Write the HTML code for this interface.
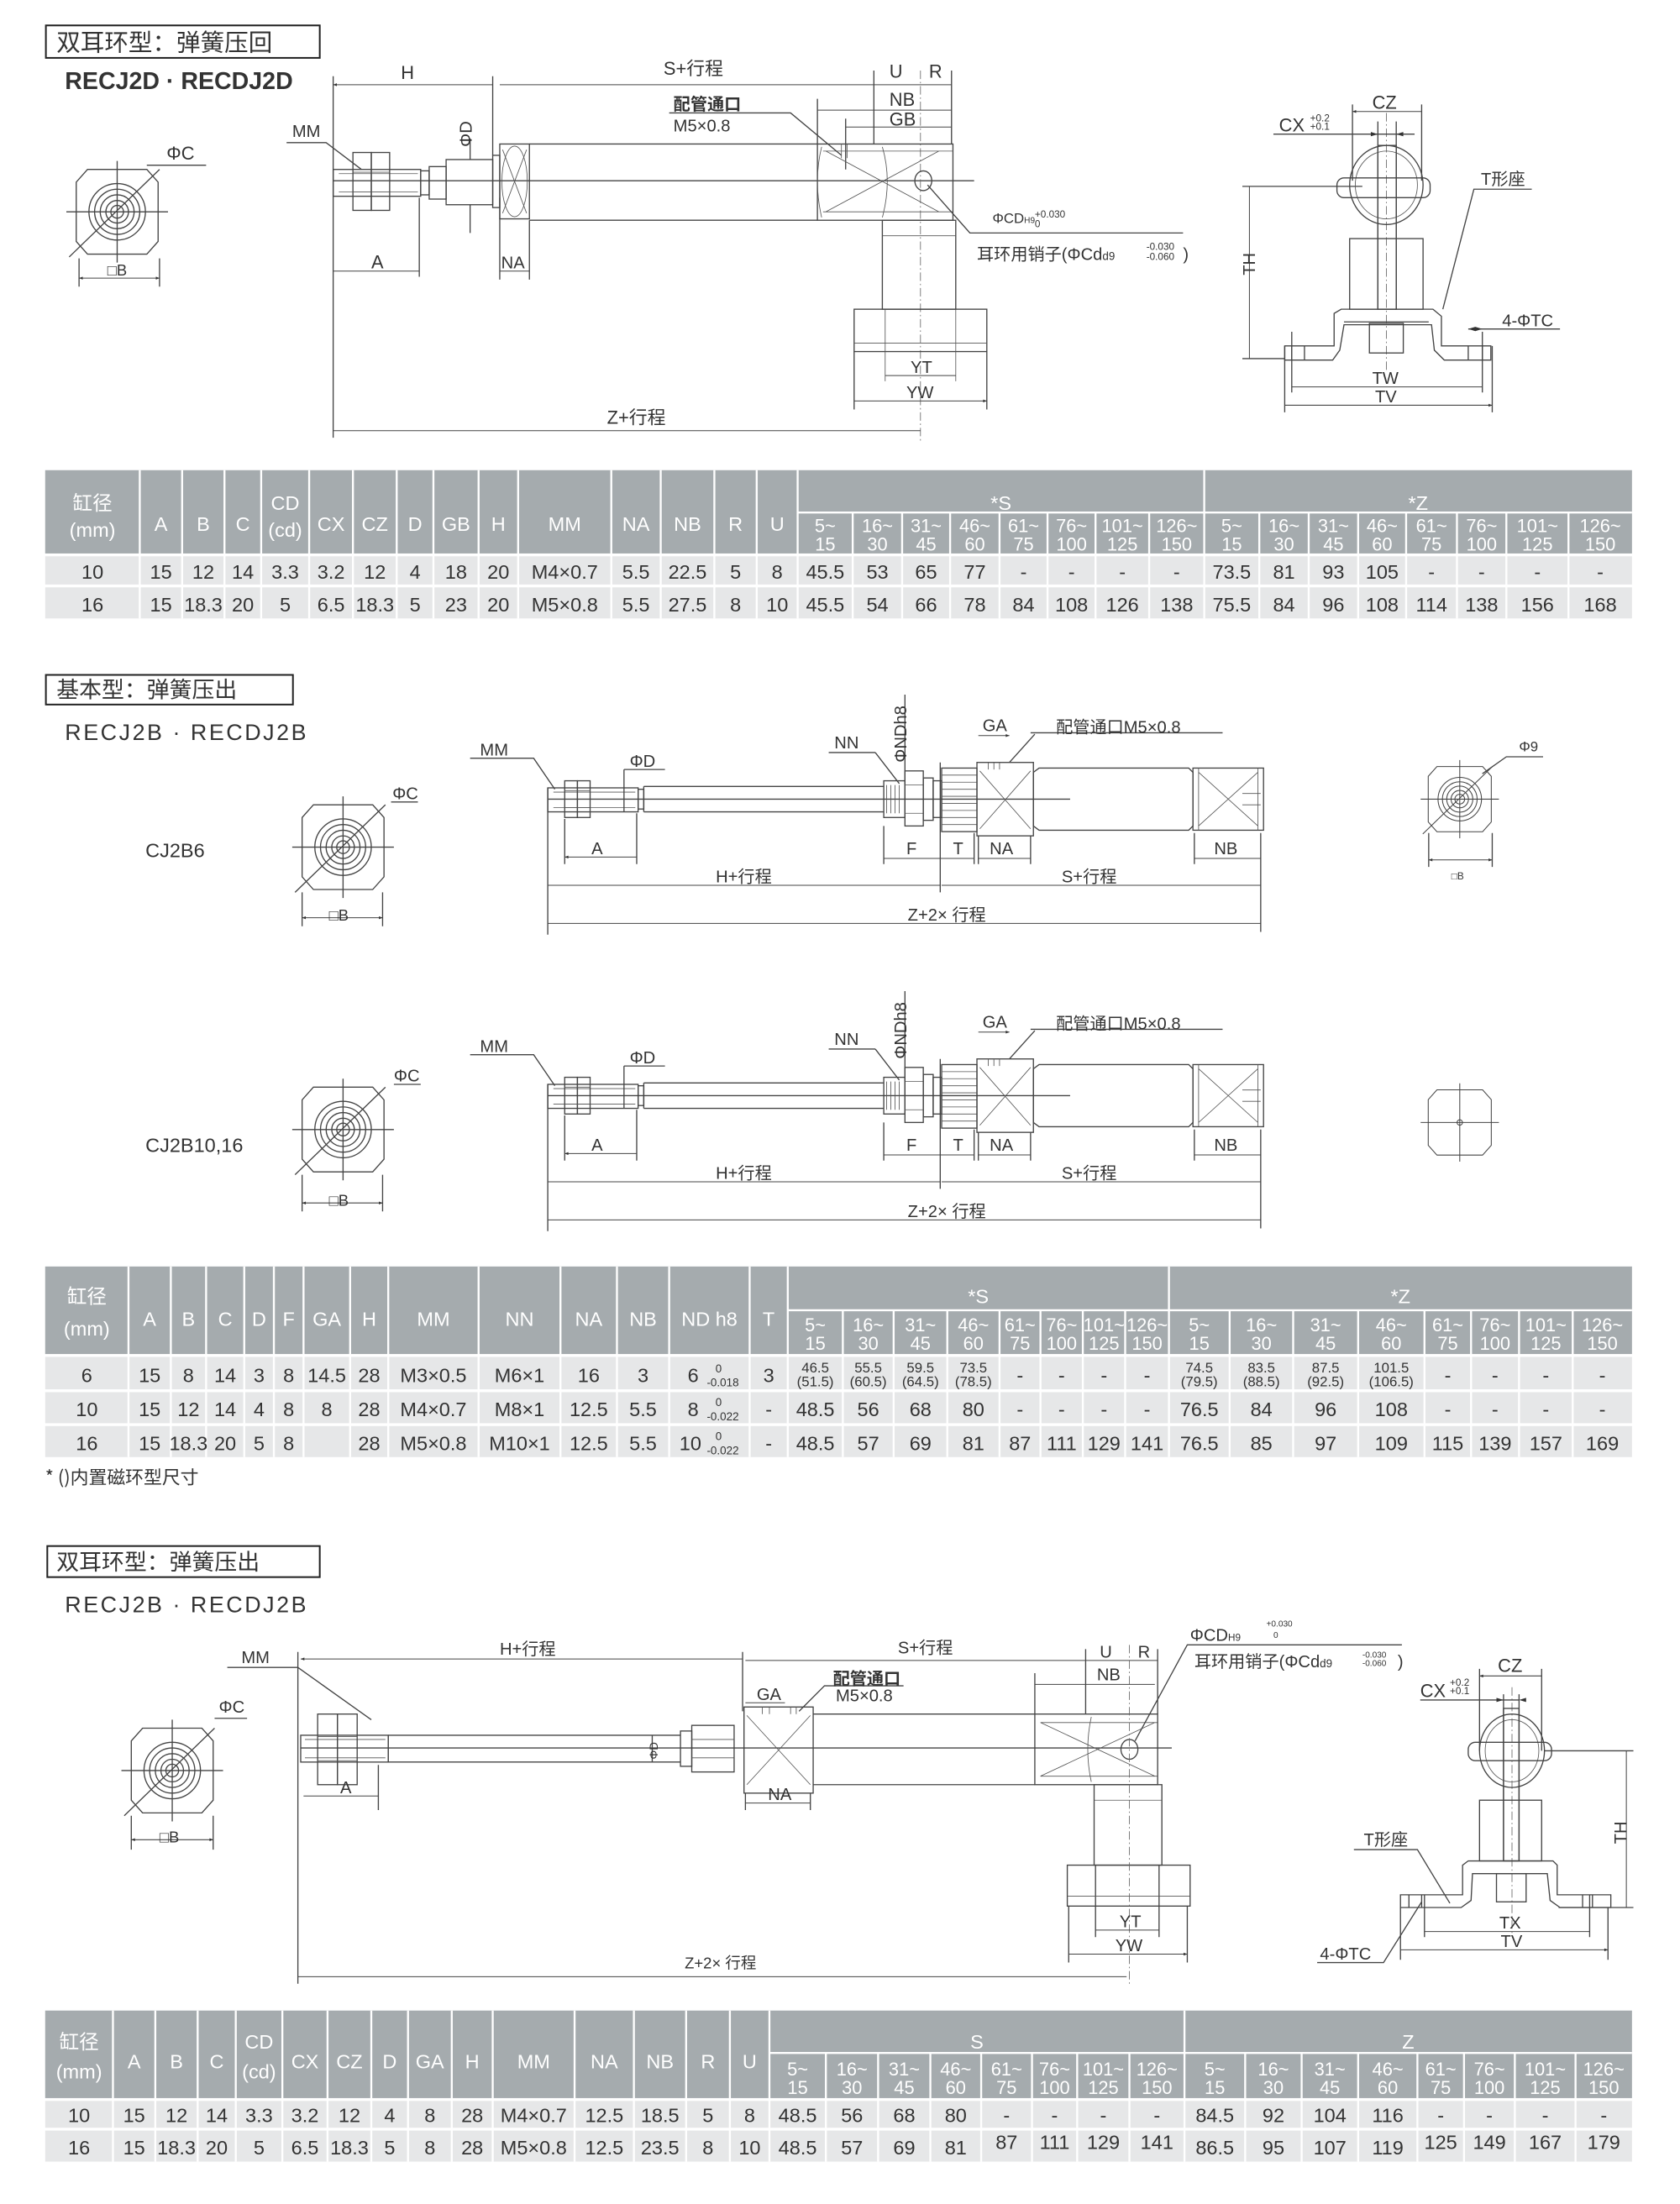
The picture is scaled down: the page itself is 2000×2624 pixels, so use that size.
<!DOCTYPE html>
<html><head><meta charset="utf-8"><style>
html,body{margin:0;padding:0;background:#fff}
svg{display:block}
text{font-family:"Liberation Sans","Noto Sans CJK SC",sans-serif;fill:#333}
.t{font-family:"Liberation Sans Narrow","Liberation Sans","Noto Sans CJK SC",sans-serif}
.l{fill:none;stroke:#444;stroke-width:0.8}
.th{fill:none;stroke:#555;stroke-width:0.5}
.d{fill:none;stroke:#444;stroke-width:0.6;marker-start:url(#ae);marker-end:url(#ae)}
.c{fill:none;stroke:#666;stroke-width:0.5;stroke-dasharray:6 2 1 2}
.w{fill:none;stroke:#fff;stroke-width:1.4}
.hd text,.hd{fill:#fff}
</style></head><body>
<svg width="2000" height="2624" viewBox="0 0 1190 1561" preserveAspectRatio="none" xmlns="http://www.w3.org/2000/svg">
<defs>
<marker id="ae" viewBox="0 0 10 10" refX="10" refY="5" markerWidth="5" markerHeight="2.6" orient="auto-start-reverse" markerUnits="userSpaceOnUse"><path d="M0,1L10,5L0,9z" fill="#333"/></marker>
<g id="oct">
<polygon class="l" points="-21,-30 21,-30 29,-21 29,21 21,30 -21,30 -29,21 -29,-21"/>
<circle class="l" r="20"/><circle class="l" r="16"/><circle class="l" r="12"/><circle class="l" r="8"/><circle class="l" r="4.5"/>
<path class="l" d="M-36,0H36M0,-36V36M-34,32L30,-30"/>
</g>
<g id="cyl2">
<path class="l" d="M388,558V662M388,566H758"/>
<rect class="l" x="388" y="558" width="64" height="17"/>
<path class="th" d="M392,561H450M392,572H450"/>
<rect class="l" x="400" y="553" width="9" height="26"/><rect class="l" x="409" y="553" width="9" height="26"/>
<path class="th" d="M400,560H418M400,572H418"/>
<rect class="l" x="452" y="559" width="4" height="14"/>
<path class="l" d="M456,557H626M456,575H626M456,557V575"/>
<rect class="l" x="626" y="553" width="15" height="26"/>
<path class="th" d="M628,556V576M631,556V576M634,556V576M637,556V576"/>
<rect class="l" x="641" y="546" width="13" height="39"/>
<path class="th" d="M641,556H654M641,576H654"/>
<rect class="l" x="654" y="551" width="7" height="30"/>
<rect class="l" x="661" y="553" width="6" height="26"/>
<rect class="l" x="667" y="544" width="25" height="45"/>
<path class="th" d="M667,549H692M667,554H692M667,559H692M667,564H692M667,569H692M667,574H692M667,579H692M667,584H692"/>
<rect class="l" x="692" y="540" width="40" height="52"/>
<path class="th" d="M694,546L730,587M694,587L730,546M700,540V545M704,540V545M708,540V545"/>
<polygon class="l" points="732,547 736,544 842,544 845,547 845,585 842,588 736,588 732,585"/>
<rect class="l" x="845" y="544" width="50" height="44"/>
<path class="th" d="M849,544V588M891,544V588M849,547L891,585M849,585L891,547M880,562H893M880,570H893"/>
<path class="l" d="M400,580V612M451,576V612M626,585V612M666,540V632M690,590V612M693,592V612M730,592V612M846,590V612M893,590V660M641,492V556M442,545V575M733,520L715,540M620,533L637,555"/>
<path class="d" d="M400,607H451M626,608H666M666,608H690M693,608H730M846,608H893M388,627H666M667,627H893M388,654H893M693,521H715"/>
<path class="l" d="M333,537H378L393,559M442,545H471M587,533H620M730,519H866"/>
</g>
</defs>

<!-- ===== SECTION 1 ===== -->
<rect x="32.5" y="18" width="194" height="23" fill="none" stroke="#222" stroke-width="1.2"/>
<text x="40" y="36" style="font-family:'Noto Sans CJK SC',sans-serif;font-size:17px">双耳环型：弹簧压回</text>
<text x="46" y="63" style="font-weight:bold;font-size:17px">RECJ2D · RECDJ2D</text>

<g transform="translate(83,150)"><use href="#oct"/></g>
<path class="l" d="M56,183V203M113,183V203M104,117H146"/>
<path class="d" d="M56,197H113"/>
<text x="76" y="195" font-size="11">□B</text>
<text x="118" y="113" font-size="13">ΦC</text>

<path class="l" d="M236,54V310M236,128H690M349,54V110M354,140V198M375,156V198M297,140V196M619,50V102M674,50V102M579,70V102M599,84V120"/>
<path class="c" d="M652,50V312"/>
<rect class="l" x="236" y="120" width="62" height="19"/>
<path class="th" d="M240,123H296M240,136H296"/>
<rect class="l" x="250" y="108" width="13" height="41"/><rect class="l" x="263" y="108" width="13" height="41"/>
<path class="th" d="M250,122H276M250,136H276"/>
<rect class="l" x="298" y="121" width="6" height="17"/>
<rect class="l" x="304" y="118" width="12" height="23"/>
<rect class="l" x="316" y="113" width="33" height="32"/>
<rect class="l" x="349" y="110" width="5" height="37"/>
<rect class="l" x="354" y="102" width="21" height="53"/>
<ellipse class="th" cx="364.5" cy="128.5" rx="9" ry="25"/>
<path class="th" d="M356,106L373,151M356,151L373,106"/>
<path class="l" d="M375,102H579M375,156H579"/>
<rect class="l" x="579" y="102" width="96" height="54"/>
<path class="th" d="M583,107H675M583,150H675M585,107L665,150M585,150L665,107M582,104Q576,128 582,154M625,104Q632,128 625,154M596,102V112M600,102V112"/>
<ellipse class="l" cx="654" cy="128" rx="6" ry="7"/>
<rect class="l" x="625" y="156" width="52" height="63"/>
<path class="th" d="M625,167H677"/>
<rect class="l" x="605" y="219" width="94" height="30"/>
<path class="th" d="M605,243H699M627,219V270M677,219V270"/>
<path class="l" d="M605,249V290M699,249V290"/>
<path class="d" d="M236,60H349M354,60H619M619,60H652M652,60H674M579,78H674M599,90H674M236,192H297M354,192H375M236,305H652M627,266H677M605,284H699"/>
<path class="l" d="M333,98V113M333,145V165M203,101H231L256,120M474,80H560L596,110M657,131L687,165H838"/>
<text x="284" y="56" font-size="13">H</text>
<text x="470" y="53" font-size="13">S+行程</text>
<text x="630" y="55" font-size="13">U</text>
<text x="658" y="55" font-size="13">R</text>
<text x="630" y="75" font-size="13">NB</text>
<text x="630" y="89" font-size="13">GB</text>
<text x="477" y="78" font-size="12" style="font-weight:bold">配管通口</text>
<text x="477" y="93" font-size="12">M5×0.8</text>
<text x="207" y="97" font-size="12">MM</text>
<text transform="translate(334,104) rotate(-90)" font-size="12">ΦD</text>
<text x="263" y="190" font-size="13">A</text>
<text x="355" y="190" font-size="12">NA</text>
<text x="430" y="300" font-size="13">Z+行程</text>
<text x="645" y="264" font-size="12">YT</text>
<text x="642" y="282" font-size="12">YW</text>
<text x="703" y="158" font-size="10">ΦCD<tspan font-size="6">H9</tspan></text>
<text x="733" y="154" font-size="7">+0.030</text><text x="733" y="161" font-size="7">0</text>
<text x="692" y="184" font-size="12">耳环用销子(ΦCd<tspan font-size="8">d9</tspan></text>
<text x="812" y="177" font-size="7">-0.030</text><text x="812" y="184" font-size="7">-0.060</text>
<text x="838" y="184" font-size="12">)</text>

<path class="l" d="M958,74V128M1007,74V128M976,86V219M989,86V219M880,132H965M880,254H910M910,245V292M1057,245V292M915,235V278M1050,235V278"/>
<path class="c" d="M982,80V262"/>
<ellipse class="l" cx="982" cy="131" rx="26" ry="28"/>
<ellipse class="th" cx="982" cy="131" rx="22" ry="24"/>
<rect class="l" x="947" y="126" width="66" height="14" rx="5"/>
<rect class="l" x="956" y="169" width="52" height="50"/>
<rect class="l" x="976" y="103" width="13" height="116" fill="#fff"/>
<polygon class="l" points="910,245 945,245 945,222 950,219 1015,219 1021,224 1021,245 1056,245 1056,255 1023,255 1016,248 1014,230 952,230 949,248 944,255 910,255"/>
<path class="l" d="M952,228H1012M915,245V255M924,245V255M1040,245V255M1050,245V255"/>
<rect class="l" x="970" y="229" width="24" height="21"/>
<path class="d" d="M958,79H1007M885,132V254M915,274H1050M910,287H1057"/>
<path class="l" d="M902,95H1002M1040,233H1105M1022,219L1044,134H1085"/>
<path d="M976,95l-5,-1.5v3zM989,95l5,-1.5v3zM1040,233l5,-1.5v3zM1050,233l-5,-1.5v3z" fill="#333"/>
<text x="972" y="77" font-size="13">CZ</text>
<text x="906" y="93" font-size="13">CX</text>
<text x="928" y="86" font-size="7">+0.2</text><text x="928" y="92" font-size="7">+0.1</text>
<text x="1049" y="131" font-size="12">T形座</text>
<text x="1064" y="231" font-size="12">4-ΦTC</text>
<text x="972" y="272" font-size="12">TW</text>
<text x="974" y="285" font-size="12">TV</text>
<text transform="translate(889,195) rotate(-90)" font-size="12">TH</text>

<!-- ===== TABLE 1 ===== -->
<rect x="32" y="333" width="1124" height="59" fill="#a5abae"/>
<rect x="32" y="394" width="1124" height="20" fill="#e6e7e8"/>
<rect x="32" y="416" width="1124" height="22" fill="#e6e7e8"/>
<path class="w" d="M99,333V438M129,333V438M159,333V438M185,333V438M219,333V438M250,333V438M281,333V438M307,333V438M339,333V438M367,333V438M433,333V438M468,333V438M506,333V438M536,333V438M565,333V438M853,333V438M565,363H1156M604,363V438M639,363V438M673,363V438M708,363V438M742,363V438M776,363V438M814,363V438M892,363V438M927,363V438M962,363V438M996,363V438M1032,363V438M1067,363V438M1111,363V438M32,393H1156M32,415H1156"/>
<g class="hd t" font-size="14" text-anchor="middle">
<text y="361"><tspan x="65.5">缸径</tspan><tspan x="202">CD</tspan><tspan x="709">*S</tspan><tspan x="1004.5">*Z</tspan></text>
<text y="380"><tspan x="65.5">(mm)</tspan><tspan x="202">(cd)</tspan></text>
<text y="376"><tspan x="114">A</tspan><tspan x="144">B</tspan><tspan x="172">C</tspan><tspan x="234.5">CX</tspan><tspan x="265.5">CZ</tspan><tspan x="294">D</tspan><tspan x="323">GB</tspan><tspan x="353">H</tspan><tspan x="400">MM</tspan><tspan x="450.5">NA</tspan><tspan x="487">NB</tspan><tspan x="521">R</tspan><tspan x="550.5">U</tspan></text>
</g>
<g class="hd t" font-size="13" text-anchor="middle">
<text y="377"><tspan x="584.5">5~</tspan><tspan x="621.5">16~</tspan><tspan x="656">31~</tspan><tspan x="690.5">46~</tspan><tspan x="725">61~</tspan><tspan x="759">76~</tspan><tspan x="795">101~</tspan><tspan x="833.5">126~</tspan><tspan x="872.5">5~</tspan><tspan x="909.5">16~</tspan><tspan x="944.5">31~</tspan><tspan x="979">46~</tspan><tspan x="1014">61~</tspan><tspan x="1049.5">76~</tspan><tspan x="1089">101~</tspan><tspan x="1133.5">126~</tspan></text>
<text y="390"><tspan x="584.5">15</tspan><tspan x="621.5">30</tspan><tspan x="656">45</tspan><tspan x="690.5">60</tspan><tspan x="725">75</tspan><tspan x="759">100</tspan><tspan x="795">125</tspan><tspan x="833.5">150</tspan><tspan x="872.5">15</tspan><tspan x="909.5">30</tspan><tspan x="944.5">45</tspan><tspan x="979">60</tspan><tspan x="1014">75</tspan><tspan x="1049.5">100</tspan><tspan x="1089">125</tspan><tspan x="1133.5">150</tspan></text>
</g>
<g class="t" font-size="14" text-anchor="middle">
<text y="410"><tspan x="65.5">10</tspan><tspan x="114">15</tspan><tspan x="144">12</tspan><tspan x="172">14</tspan><tspan x="202">3.3</tspan><tspan x="234.5">3.2</tspan><tspan x="265.5">12</tspan><tspan x="294">4</tspan><tspan x="323">18</tspan><tspan x="353">20</tspan><tspan x="400">M4×0.7</tspan><tspan x="450.5">5.5</tspan><tspan x="487">22.5</tspan><tspan x="521">5</tspan><tspan x="550.5">8</tspan><tspan x="584.5">45.5</tspan><tspan x="621.5">53</tspan><tspan x="656">65</tspan><tspan x="690.5">77</tspan><tspan x="725">-</tspan><tspan x="759">-</tspan><tspan x="795">-</tspan><tspan x="833.5">-</tspan><tspan x="872.5">73.5</tspan><tspan x="909.5">81</tspan><tspan x="944.5">93</tspan><tspan x="979">105</tspan><tspan x="1014">-</tspan><tspan x="1049.5">-</tspan><tspan x="1089">-</tspan><tspan x="1133.5">-</tspan></text>
<text y="433"><tspan x="65.5">16</tspan><tspan x="114">15</tspan><tspan x="144">18.3</tspan><tspan x="172">20</tspan><tspan x="202">5</tspan><tspan x="234.5">6.5</tspan><tspan x="265.5">18.3</tspan><tspan x="294">5</tspan><tspan x="323">23</tspan><tspan x="353">20</tspan><tspan x="400">M5×0.8</tspan><tspan x="450.5">5.5</tspan><tspan x="487">27.5</tspan><tspan x="521">8</tspan><tspan x="550.5">10</tspan><tspan x="584.5">45.5</tspan><tspan x="621.5">54</tspan><tspan x="656">66</tspan><tspan x="690.5">78</tspan><tspan x="725">84</tspan><tspan x="759">108</tspan><tspan x="795">126</tspan><tspan x="833.5">138</tspan><tspan x="872.5">75.5</tspan><tspan x="909.5">84</tspan><tspan x="944.5">96</tspan><tspan x="979">108</tspan><tspan x="1014">114</tspan><tspan x="1049.5">138</tspan><tspan x="1089">156</tspan><tspan x="1133.5">168</tspan></text>
</g>

<!-- ===== SECTION 2 ===== -->
<rect x="32.5" y="478" width="175" height="21" fill="none" stroke="#222" stroke-width="1.2"/>
<text x="40" y="494" style="font-family:'Noto Sans CJK SC',sans-serif;font-size:16px">基本型：弹簧压出</text>
<text x="46" y="524" font-size="16" letter-spacing="1.5">RECJ2B · RECDJ2B</text>

<g transform="translate(243,600)"><use href="#oct"/></g>
<path class="l" d="M214,632V656M271,632V656M277,568H296"/><path class="d" d="M214,650H271"/>
<text x="233" y="652" font-size="11">□B</text><text x="278" y="566" font-size="12">ΦC</text>
<text x="103" y="607" font-size="14">CJ2B6</text>

<g transform="translate(243,800)"><use href="#oct"/></g>
<path class="l" d="M214,832V858M271,832V858M279,768H298"/><path class="d" d="M214,852H271"/>
<text x="233" y="854" font-size="11">□B</text><text x="279" y="766" font-size="12">ΦC</text>
<text x="103" y="816" font-size="14">CJ2B10,16</text>

<use href="#cyl2"/>
<use href="#cyl2" transform="translate(0,210)"/>
<g font-size="12">
<text x="340" y="535">MM</text><text x="446" y="543">ΦD</text><text x="419" y="605">A</text><text x="507" y="625">H+行程</text>
<text x="643" y="652">Z+2× 行程</text><text x="591" y="530">NN</text><text x="696" y="518">GA</text>
<text x="748" y="519">配管通口M5×0.8</text><text x="642" y="605">F</text><text x="675" y="605">T</text><text x="701" y="605">NA</text>
<text x="860" y="605">NB</text><text x="752" y="625">S+行程</text>
<text transform="translate(642,540) rotate(-90)">ΦNDh8</text>
</g>
<g font-size="12" transform="translate(0,210)">
<text x="340" y="535">MM</text><text x="446" y="543">ΦD</text><text x="419" y="605">A</text><text x="507" y="625">H+行程</text>
<text x="643" y="652">Z+2× 行程</text><text x="591" y="530">NN</text><text x="696" y="518">GA</text>
<text x="748" y="519">配管通口M5×0.8</text><text x="642" y="605">F</text><text x="675" y="605">T</text><text x="701" y="605">NA</text>
<text x="860" y="605">NB</text><text x="752" y="625">S+行程</text>
<text transform="translate(642,540) rotate(-90)">ΦNDh8</text>
</g>

<g transform="translate(1034,566) scale(0.77)"><use href="#oct"/></g>
<path class="l" d="M1012,590V614M1057,590V614M1050,548L1067,536H1093"/><path class="d" d="M1012,609H1057"/>
<text x="1028" y="623" font-size="7">□B</text><text x="1076" y="532" font-size="10">Φ9</text>
<g transform="translate(1034,795) scale(0.77)"><polygon class="l" points="-21,-30 21,-30 29,-21 29,21 21,30 -21,30 -29,21 -29,-21"/><circle class="l" r="2.5"/><path class="l" d="M-36,0H36M0,-36V36"/></g>

<!-- ===== TABLE 2 ===== -->
<rect x="32" y="897" width="1124" height="62" fill="#a5abae"/>
<rect x="32" y="961" width="1124" height="23" fill="#e6e7e8"/>
<rect x="32" y="986" width="1124" height="22" fill="#e6e7e8"/>
<rect x="32" y="1010" width="1124" height="22" fill="#e6e7e8"/>
<path class="w" d="M91,897V1032M121,897V1032M146,897V1032M173,897V1032M194,897V1032M215,897V1032M248,897V1032M275,897V1032M339,897V1032M397,897V1032M437,897V1032M474,897V1032M531,897V1032M558,897V1032M828,897V1032M558,928H1156M597,928V1032M633,928V1032M671,928V1032M708,928V1032M737,928V1032M767,928V1032M797,928V1032M871,928V1032M916,928V1032M962,928V1032M1009,928V1032M1042,928V1032M1076,928V1032M1114,928V1032M32,960H1156M32,985H1156M32,1009H1156"/>
<g class="hd t" font-size="14" text-anchor="middle">
<text y="923"><tspan x="61.5">缸径</tspan><tspan x="693">*S</tspan><tspan x="992">*Z</tspan></text>
<text y="946"><tspan x="61.5">(mm)</tspan></text>
<text y="939"><tspan x="106">A</tspan><tspan x="133.5">B</tspan><tspan x="159.5">C</tspan><tspan x="183.5">D</tspan><tspan x="204.5">F</tspan><tspan x="231.5">GA</tspan><tspan x="261.5">H</tspan><tspan x="307">MM</tspan><tspan x="368">NN</tspan><tspan x="417">NA</tspan><tspan x="455.5">NB</tspan><tspan x="502.5">ND h8</tspan><tspan x="544.5">T</tspan></text>
</g>
<g class="hd t" font-size="13" text-anchor="middle">
<text y="943"><tspan x="577.5">5~</tspan><tspan x="615">16~</tspan><tspan x="652">31~</tspan><tspan x="689.5">46~</tspan><tspan x="722.5">61~</tspan><tspan x="752">76~</tspan><tspan x="782">101~</tspan><tspan x="812.5">126~</tspan><tspan x="849.5">5~</tspan><tspan x="893.5">16~</tspan><tspan x="939">31~</tspan><tspan x="985.5">46~</tspan><tspan x="1025.5">61~</tspan><tspan x="1059">76~</tspan><tspan x="1095">101~</tspan><tspan x="1135">126~</tspan></text>
<text y="956"><tspan x="577.5">15</tspan><tspan x="615">30</tspan><tspan x="652">45</tspan><tspan x="689.5">60</tspan><tspan x="722.5">75</tspan><tspan x="752">100</tspan><tspan x="782">125</tspan><tspan x="812.5">150</tspan><tspan x="849.5">15</tspan><tspan x="893.5">30</tspan><tspan x="939">45</tspan><tspan x="985.5">60</tspan><tspan x="1025.5">75</tspan><tspan x="1059">100</tspan><tspan x="1095">125</tspan><tspan x="1135">150</tspan></text>
</g>
<g class="t" font-size="14" text-anchor="middle">
<text y="979"><tspan x="61.5">6</tspan><tspan x="106">15</tspan><tspan x="133.5">8</tspan><tspan x="159.5">14</tspan><tspan x="183.5">3</tspan><tspan x="204.5">8</tspan><tspan x="231.5">14.5</tspan><tspan x="261.5">28</tspan><tspan x="307">M3×0.5</tspan><tspan x="368">M6×1</tspan><tspan x="417">16</tspan><tspan x="455.5">3</tspan><tspan x="491">6</tspan><tspan x="544.5">3</tspan><tspan x="722.5">-</tspan><tspan x="752">-</tspan><tspan x="782">-</tspan><tspan x="812.5">-</tspan><tspan x="1025.5">-</tspan><tspan x="1059">-</tspan><tspan x="1095">-</tspan><tspan x="1135">-</tspan></text>
<text y="1003"><tspan x="61.5">10</tspan><tspan x="106">15</tspan><tspan x="133.5">12</tspan><tspan x="159.5">14</tspan><tspan x="183.5">4</tspan><tspan x="204.5">8</tspan><tspan x="231.5">8</tspan><tspan x="261.5">28</tspan><tspan x="307">M4×0.7</tspan><tspan x="368">M8×1</tspan><tspan x="417">12.5</tspan><tspan x="455.5">5.5</tspan><tspan x="491">8</tspan><tspan x="544.5">-</tspan><tspan x="577.5">48.5</tspan><tspan x="615">56</tspan><tspan x="652">68</tspan><tspan x="689.5">80</tspan><tspan x="722.5">-</tspan><tspan x="752">-</tspan><tspan x="782">-</tspan><tspan x="812.5">-</tspan><tspan x="849.5">76.5</tspan><tspan x="893.5">84</tspan><tspan x="939">96</tspan><tspan x="985.5">108</tspan><tspan x="1025.5">-</tspan><tspan x="1059">-</tspan><tspan x="1095">-</tspan><tspan x="1135">-</tspan></text>
<text y="1027"><tspan x="61.5">16</tspan><tspan x="106">15</tspan><tspan x="133.5">18.3</tspan><tspan x="159.5">20</tspan><tspan x="183.5">5</tspan><tspan x="204.5">8</tspan><tspan x="261.5">28</tspan><tspan x="307">M5×0.8</tspan><tspan x="368">M10×1</tspan><tspan x="417">12.5</tspan><tspan x="455.5">5.5</tspan><tspan x="489">10</tspan><tspan x="544.5">-</tspan><tspan x="577.5">48.5</tspan><tspan x="615">57</tspan><tspan x="652">69</tspan><tspan x="689.5">81</tspan><tspan x="722.5">87</tspan><tspan x="752">111</tspan><tspan x="782">129</tspan><tspan x="812.5">141</tspan><tspan x="849.5">76.5</tspan><tspan x="893.5">85</tspan><tspan x="939">97</tspan><tspan x="985.5">109</tspan><tspan x="1025.5">115</tspan><tspan x="1059">139</tspan><tspan x="1095">157</tspan><tspan x="1135">169</tspan></text>
</g>
<g class="t" font-size="8" text-anchor="middle">
<text y="972"><tspan x="509">0</tspan></text><text y="982"><tspan x="512">-0.018</tspan></text>
<text y="996"><tspan x="509">0</tspan></text><text y="1006"><tspan x="512">-0.022</tspan></text>
<text y="1020"><tspan x="509">0</tspan></text><text y="1030"><tspan x="512">-0.022</tspan></text>
</g>
<g class="t" font-size="10" text-anchor="middle">
<text y="972"><tspan x="577.5">46.5</tspan><tspan x="615">55.5</tspan><tspan x="652">59.5</tspan><tspan x="689.5">73.5</tspan><tspan x="849.5">74.5</tspan><tspan x="893.5">83.5</tspan><tspan x="939">87.5</tspan><tspan x="985.5">101.5</tspan></text>
<text y="982"><tspan x="577.5">(51.5)</tspan><tspan x="615">(60.5)</tspan><tspan x="652">(64.5)</tspan><tspan x="689.5">(78.5)</tspan><tspan x="849.5">(79.5)</tspan><tspan x="893.5">(88.5)</tspan><tspan x="939">(92.5)</tspan><tspan x="985.5">(106.5)</tspan></text>
</g>
<text x="32" y="1051" font-size="13" style="font-family:'Noto Sans CJK SC',sans-serif">* ()内置磁环型尺寸</text>

<!-- ===== SECTION 3 ===== -->
<rect x="33.5" y="1095" width="193" height="22" fill="none" stroke="#222" stroke-width="1.2"/>
<text x="40" y="1112" style="font-family:'Noto Sans CJK SC',sans-serif;font-size:16px">双耳环型：弹簧压出</text>
<text x="46" y="1142" font-size="16" letter-spacing="1.5">RECJ2B · RECDJ2B</text>

<g transform="translate(122,1254)"><use href="#oct"/></g>
<path class="l" d="M93,1286V1310M151,1286V1310M152,1217H175"/><path class="d" d="M93,1303H151"/>
<text x="113" y="1305" font-size="11">□B</text><text x="155" y="1213" font-size="12">ΦC</text>

<path class="l" d="M211,1170V1405M213,1238H830M526,1170V1212M268,1250V1282M528,1270V1282M574,1270V1282M733,1185V1214M769,1168V1214M820,1168V1214M757,1350V1390M841,1350V1390M776,1321V1372M821,1321V1372"/>
<rect class="l" x="213" y="1229" width="62" height="19"/>
<path class="th" d="M216,1232H273M216,1245H273"/>
<rect class="l" x="225" y="1214" width="14" height="50"/><rect class="l" x="239" y="1214" width="14" height="50"/>
<path class="th" d="M225,1230H253M225,1247H253"/>
<path class="l" d="M275,1229H482M275,1248H482M275,1229V1248"/>
<rect class="l" x="482" y="1226" width="8" height="25"/>
<rect class="l" x="490" y="1222" width="30" height="33"/>
<path class="th" d="M490,1232H520M490,1245H520"/>
<rect class="l" x="527" y="1209" width="49" height="61"/>
<path class="th" d="M529,1215L574,1264M529,1264L574,1215M540,1209V1214M545,1209V1214M560,1209V1214M564,1209V1214"/>
<path class="l" d="M576,1214H733M576,1264H733"/>
<rect class="l" x="733" y="1214" width="87" height="50"/>
<path class="th" d="M737,1220H820M737,1258H820M737,1220L818,1258M737,1258L818,1220M773,1216Q768,1239 773,1262"/>
<ellipse class="l" cx="800" cy="1239" rx="6" ry="7"/>
<rect class="l" x="775" y="1264" width="48" height="57"/>
<path class="th" d="M775,1275H823"/>
<rect class="l" x="756" y="1321" width="87" height="29"/>
<path class="th" d="M756,1343H843"/>
<path class="c" d="M800,1165V1406"/>
<path class="d" d="M213,1175H526M528,1176H769M769,1176H800M800,1176H820M733,1193H818M215,1272H268M528,1277H574M528,1206H556M211,1400H798M776,1367H821M757,1384H841"/>
<path class="l" d="M161,1181H211L263,1218M566,1212L584,1194H640M804,1233L841,1165H993M462,1229V1248"/>
<g font-size="12">
<text x="171" y="1178">MM</text><text x="354" y="1172">H+行程</text><text x="636" y="1171">S+行程</text>
<text x="779" y="1174">U</text><text x="806" y="1174">R</text><text x="777" y="1190">NB</text>
<text x="536" y="1204">GA</text><text x="590" y="1193" style="font-weight:bold">配管通口</text><text x="592" y="1205">M5×0.8</text>
<text x="241" y="1270">A</text><text x="544" y="1275">NA</text><text x="485" y="1394" font-size="11">Z+2× 行程</text>
<text x="793" y="1365">YT</text><text x="790" y="1382">YW</text>
<text x="843" y="1162">ΦCD<tspan font-size="7">H9</tspan></text>
<text x="846" y="1181">耳环用销子(ΦCd<tspan font-size="8">d9</tspan></text><text x="990" y="1181">)</text>
</g>
<text x="897" y="1152" font-size="6">+0.030</text><text x="902" y="1160" font-size="6">0</text>
<text x="965" y="1174" font-size="6">-0.030</text><text x="965" y="1180" font-size="6">-0.060</text>
<text transform="translate(466,1246) rotate(-90)" font-size="8">ΦD</text>

<path class="l" d="M1048,1182V1240M1092,1182V1240M1065,1200V1318M1076,1200V1318M1094,1240H1157M1104,1351H1157M992,1351V1388M1139,1351V1388M1009,1342V1372M1126,1342V1372"/>
<path class="c" d="M1071,1195V1370"/>
<ellipse class="l" cx="1071" cy="1240" rx="23" ry="26"/>
<ellipse class="th" cx="1071" cy="1240" rx="19" ry="22"/>
<rect class="l" x="1040" y="1234" width="59" height="13" rx="5"/>
<rect class="l" x="1048" y="1275" width="44" height="43"/>
<rect class="l" x="1065" y="1210" width="11" height="108" fill="#fff"/>
<polygon class="l" points="992,1342 1036,1342 1036,1321 1040,1318 1100,1318 1103,1321 1103,1342 1141,1342 1141,1351 1105,1351 1098,1346 1096,1327 1043,1327 1042,1346 1035,1351 992,1351"/>
<path class="l" d="M998,1342V1351M1007,1342V1351M1121,1342V1351M1128,1342V1351"/>
<rect class="l" x="1060" y="1327" width="21" height="20"/>
<path class="d" d="M1048,1187H1092M1152,1240V1351M1009,1368H1126M992,1381H1139"/>
<path class="l" d="M1006,1204H1076M959,1310H1004L1027,1348M933,1390H980L1007,1347"/>
<path d="M1065,1204l-5,-1.5v3zM1076,1204l5,-1.5v3z" fill="#333"/>
<text x="1061" y="1184" font-size="13">CZ</text>
<text x="1006" y="1202" font-size="13">CX</text>
<text x="1027" y="1194" font-size="7">+0.2</text><text x="1027" y="1200" font-size="7">+0.1</text>
<text x="966" y="1307" font-size="12">T形座</text>
<text x="935" y="1388" font-size="12">4-ΦTC</text>
<text x="1062" y="1366" font-size="12">TX</text>
<text x="1063" y="1379" font-size="12">TV</text>
<text transform="translate(1152,1306) rotate(-90)" font-size="12">TH</text>

<!-- ===== TABLE 3 ===== -->
<rect x="32" y="1424" width="1124" height="62" fill="#a5abae"/>
<rect x="32" y="1488" width="1124" height="19" fill="#e6e7e8"/>
<rect x="32" y="1509" width="1124" height="22" fill="#e6e7e8"/>
<path class="w" d="M80,1424V1531M110,1424V1531M140,1424V1531M167,1424V1531M200,1424V1531M232,1424V1531M263,1424V1531M289,1424V1531M320,1424V1531M349,1424V1531M407,1424V1531M449,1424V1531M486,1424V1531M517,1424V1531M545,1424V1531M839,1424V1531M545,1454H1156M585,1454V1531M622,1454V1531M659,1454V1531M695,1454V1531M731,1454V1531M763,1454V1531M800,1454V1531M882,1454V1531M922,1454V1531M962,1454V1531M1004,1454V1531M1037,1454V1531M1073,1454V1531M1116,1454V1531M32,1487H1156M32,1508H1156"/>
<g class="hd t" font-size="14" text-anchor="middle">
<text y="1451"><tspan x="56">缸径</tspan><tspan x="183.5">CD</tspan><tspan x="692">S</tspan><tspan x="997.5">Z</tspan></text>
<text y="1472"><tspan x="56">(mm)</tspan><tspan x="183.5">(cd)</tspan></text>
<text y="1465"><tspan x="95">A</tspan><tspan x="125">B</tspan><tspan x="153.5">C</tspan><tspan x="216">CX</tspan><tspan x="247.5">CZ</tspan><tspan x="276">D</tspan><tspan x="304.5">GA</tspan><tspan x="334.5">H</tspan><tspan x="378">MM</tspan><tspan x="428">NA</tspan><tspan x="467.5">NB</tspan><tspan x="501.5">R</tspan><tspan x="531">U</tspan></text>
</g>
<g class="hd t" font-size="13" text-anchor="middle">
<text y="1470"><tspan x="565">5~</tspan><tspan x="603.5">16~</tspan><tspan x="640.5">31~</tspan><tspan x="677">46~</tspan><tspan x="713">61~</tspan><tspan x="747">76~</tspan><tspan x="781.5">101~</tspan><tspan x="819.5">126~</tspan><tspan x="860.5">5~</tspan><tspan x="902">16~</tspan><tspan x="942">31~</tspan><tspan x="983">46~</tspan><tspan x="1020.5">61~</tspan><tspan x="1055">76~</tspan><tspan x="1094.5">101~</tspan><tspan x="1136">126~</tspan></text>
<text y="1483"><tspan x="565">15</tspan><tspan x="603.5">30</tspan><tspan x="640.5">45</tspan><tspan x="677">60</tspan><tspan x="713">75</tspan><tspan x="747">100</tspan><tspan x="781.5">125</tspan><tspan x="819.5">150</tspan><tspan x="860.5">15</tspan><tspan x="902">30</tspan><tspan x="942">45</tspan><tspan x="983">60</tspan><tspan x="1020.5">75</tspan><tspan x="1055">100</tspan><tspan x="1094.5">125</tspan><tspan x="1136">150</tspan></text>
</g>
<g class="t" font-size="14" text-anchor="middle">
<text y="1503"><tspan x="56">10</tspan><tspan x="95">15</tspan><tspan x="125">12</tspan><tspan x="153.5">14</tspan><tspan x="183.5">3.3</tspan><tspan x="216">3.2</tspan><tspan x="247.5">12</tspan><tspan x="276">4</tspan><tspan x="304.5">8</tspan><tspan x="334.5">28</tspan><tspan x="378">M4×0.7</tspan><tspan x="428">12.5</tspan><tspan x="467.5">18.5</tspan><tspan x="501.5">5</tspan><tspan x="531">8</tspan><tspan x="565">48.5</tspan><tspan x="603.5">56</tspan><tspan x="640.5">68</tspan><tspan x="677">80</tspan><tspan x="713">-</tspan><tspan x="747">-</tspan><tspan x="781.5">-</tspan><tspan x="819.5">-</tspan><tspan x="860.5">84.5</tspan><tspan x="902">92</tspan><tspan x="942">104</tspan><tspan x="983">116</tspan><tspan x="1020.5">-</tspan><tspan x="1055">-</tspan><tspan x="1094.5">-</tspan><tspan x="1136">-</tspan></text>
<text y="1526"><tspan x="56">16</tspan><tspan x="95">15</tspan><tspan x="125">18.3</tspan><tspan x="153.5">20</tspan><tspan x="183.5">5</tspan><tspan x="216">6.5</tspan><tspan x="247.5">18.3</tspan><tspan x="276">5</tspan><tspan x="304.5">8</tspan><tspan x="334.5">28</tspan><tspan x="378">M5×0.8</tspan><tspan x="428">12.5</tspan><tspan x="467.5">23.5</tspan><tspan x="501.5">8</tspan><tspan x="531">10</tspan><tspan x="565">48.5</tspan><tspan x="603.5">57</tspan><tspan x="640.5">69</tspan><tspan x="677">81</tspan><tspan x="860.5">86.5</tspan><tspan x="902">95</tspan><tspan x="942">107</tspan><tspan x="983">119</tspan></text>
<text y="1522"><tspan x="713">87</tspan><tspan x="747">111</tspan><tspan x="781.5">129</tspan><tspan x="819.5">141</tspan><tspan x="1020.5">125</tspan><tspan x="1055">149</tspan><tspan x="1094.5">167</tspan><tspan x="1136">179</tspan></text>
</g>
</svg>
</body></html>
